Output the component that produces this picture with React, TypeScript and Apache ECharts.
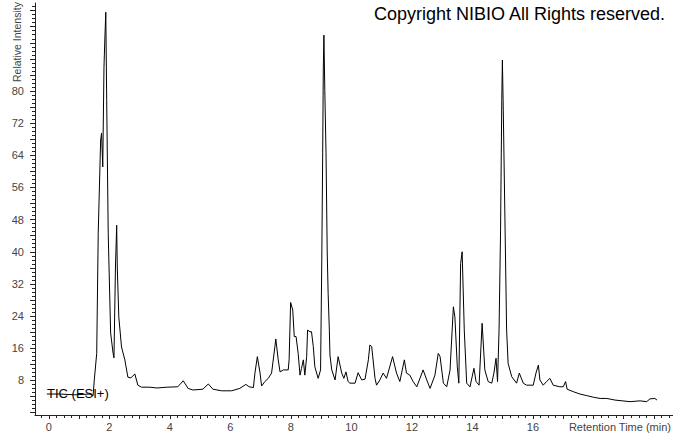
import React, { useEffect, useRef } from "react";
import * as echarts from "echarts";

// Retention time (min) and relative intensity
const times: number[] = [
  -0.07, 0.36, 0.86, 1.36, 1.46, 1.5, 1.58, 1.63, 1.71, 1.74, 1.78, 1.82, 1.85, 1.88, 1.91, 1.96,
  2.04, 2.12, 2.15, 2.2, 2.24, 2.26, 2.31, 2.4, 2.51, 2.61, 2.71, 2.84, 2.94, 3.06, 3.34, 3.57,
  3.9, 4.26, 4.44, 4.6, 4.76, 5.09, 5.27, 5.42, 5.71, 6.04, 6.31, 6.51, 6.62, 6.76, 6.81, 6.89,
  6.98, 7.03, 7.14, 7.25, 7.36, 7.47, 7.5, 7.58, 7.64, 7.75, 7.91, 7.94, 7.99, 8.06, 8.11, 8.17,
  8.24, 8.3, 8.35, 8.41, 8.46, 8.52, 8.55, 8.63, 8.68, 8.74, 8.79, 8.9, 8.98, 9.02, 9.05, 9.07,
  9.09, 9.12, 9.16, 9.2, 9.23, 9.27, 9.29, 9.35, 9.46, 9.56, 9.68, 9.75, 9.82, 9.89, 9.95, 10.12,
  10.22, 10.34, 10.45, 10.56, 10.61, 10.67, 10.78, 10.83, 10.94, 11.05, 11.16, 11.36, 11.49, 11.6,
  11.75, 11.82, 11.93, 12.04, 12.16, 12.37, 12.49, 12.6, 12.76, 12.87, 12.93, 13.04, 13.15, 13.26,
  13.37, 13.42, 13.5, 13.55, 13.61, 13.66, 13.73, 13.81, 13.92, 14.05, 14.12, 14.22, 14.32, 14.41,
  14.52, 14.64, 14.71, 14.78, 14.83, 14.88, 14.93, 14.97, 14.99, 15.02, 15.08, 15.13, 15.18, 15.3,
  15.46, 15.55, 15.68, 15.79, 16.01, 16.1, 16.18, 16.23, 16.34, 16.45, 16.56, 16.67, 16.89, 17.0,
  17.08, 17.13, 17.33, 17.55, 17.78, 18.0, 18.22, 18.44, 18.71, 19.21, 19.54, 19.76, 19.87, 20.03,
  20.1,
];
const intensity: number[] = [
  4.6, 4.6, 4.4, 4.6, 4.2, 8.1, 14.7, 44.7, 67.8, 69.5, 61.1, 85.9, 93.2, 99.6, 77.7, 44.7,
  19.8, 14.8, 13.6, 36.2, 46.6, 36.2, 23.8, 16.3, 13.1, 8.8, 8.6, 9.6, 6.8, 6.3, 6.3, 6.1,
  6.3, 6.4, 7.9, 6.0, 5.6, 5.8, 7.1, 5.8, 5.4, 5.4, 6.0, 7.0, 6.4, 6.2, 9.8, 13.9,
  9.8, 6.6, 7.7, 8.5, 9.8, 16.4, 18.3, 13.1, 10.1, 10.6, 10.6, 13.1, 27.4, 25.5, 18.9, 18.9,
  14.7, 9.3, 11.0, 13.1, 9.3, 13.9, 20.5, 20.1, 20.1, 16.4, 11.4, 8.5, 10.6, 37.9, 64.6, 85.2,
  93.9, 80.2, 64.6, 39.7, 29.7, 20.5, 14.3, 10.6, 8.1, 13.9, 9.8, 8.5, 10.1, 7.7, 7.3, 7.3,
  9.9, 8.1, 8.3, 13.1, 16.8, 16.4, 8.5, 6.8, 8.1, 9.8, 8.5, 13.9, 9.8, 7.7,
  13.1, 9.8, 9.3, 7.7, 6.4, 10.6, 8.1, 6.0, 9.3, 14.7, 13.9, 7.3, 6.4, 10.6,
  26.3, 23.8, 11.4, 7.3, 37.1, 40.0, 20.5, 7.3, 6.4, 11.0, 7.7, 6.8, 22.2, 10.6,
  7.7, 7.3, 9.8, 13.5, 7.7, 20.5, 45.4, 77.7, 87.7, 75.2, 45.4, 20.5, 12.2, 8.9,
  7.3, 9.8, 7.3, 6.8, 6.8, 9.8, 11.8, 8.1, 6.8, 7.7, 8.5, 6.8, 6.4, 6.4,
  7.7, 5.8, 5.2, 4.6, 4.2, 3.8, 3.5, 3.5, 3.1, 2.7, 2.9, 2.7, 3.4, 3.5,
  3.1,
];

// Tick positions and labels
const yLabelValues: number[] = [8, 16, 24, 32, 40, 48, 56, 64, 72, 80];
const xLabelValues: number[] = [0, 2, 4, 6, 8, 10, 12, 14, 16];

const yMajorTicks: number[] = [];
for (let v = 0; v <= 100; v += 4) yMajorTicks.push(v);
const yMinorTicks: number[] = [];
for (let v = 0; v <= 101; v += 1) yMinorTicks.push(v);
const xMajorTicks: number[] = [];
for (let v = 0; v <= 20; v += 1) xMajorTicks.push(v);
const xMinorTicks: number[] = [];
for (let v = -0.25; v <= 20.5; v += 0.25) xMinorTicks.push(Math.round(v * 100) / 100);

const X_MIN = -0.46;
const X_MAX = 20.63;
const Y_MIN = -0.62;
const Y_MAX = 101.9;

export default function App() {
  const ref = useRef<HTMLDivElement>(null);
  useEffect(() => {
    if (!ref.current) return;
    const chart = echarts.init(ref.current, undefined, { renderer: "svg" });
    const axisColor = "#222";
    const labelColor = "#444";
    chart.setOption({
      animation: false,
      backgroundColor: "#ffffff",
      grid: { left: 35, right: 0, top: 3, bottom: 18, containLabel: false, outerBoundsMode: "none" },
      xAxis: [
        {
          type: "value",
          min: X_MIN,
          max: X_MAX,
          position: "bottom",
          axisLine: { show: true, onZero: false, lineStyle: { color: axisColor, width: 1 } },
          axisTick: { show: true, customValues: xMajorTicks, length: 4, lineStyle: { color: axisColor } },
          axisLabel: {
            customValues: xLabelValues,
            color: labelColor,
            fontSize: 11,
            fontFamily: "Liberation Sans, Arial, sans-serif",
            margin: 6,
          },
          splitLine: { show: false },
        },
        {
          type: "value",
          min: X_MIN,
          max: X_MAX,
          position: "bottom",
          axisLine: { show: false, onZero: false },
          axisTick: { show: true, customValues: xMinorTicks, length: 3, lineStyle: { color: axisColor } },
          axisLabel: { show: false },
          splitLine: { show: false },
        },
      ],
      yAxis: [
        {
          type: "value",
          min: Y_MIN,
          max: Y_MAX,
          position: "left",
          axisLine: { show: true, onZero: false, lineStyle: { color: axisColor, width: 1 } },
          axisTick: { show: true, customValues: yMajorTicks, length: 5, lineStyle: { color: axisColor } },
          axisLabel: {
            customValues: yLabelValues,
            color: labelColor,
            fontSize: 11,
            fontFamily: "Liberation Sans, Arial, sans-serif",
            margin: 11,
          },
          splitLine: { show: false },
        },
        {
          type: "value",
          min: Y_MIN,
          max: Y_MAX,
          position: "left",
          axisLine: { show: false, onZero: false },
          axisTick: { show: true, customValues: yMinorTicks, length: 3, lineStyle: { color: axisColor } },
          axisLabel: { show: false },
          splitLine: { show: false },
        },
      ],
      graphic: [
        {
          type: "text",
          right: 7,
          top: 5,
          style: {
            text: "Copyright NIBIO All Rights reserved.",
            fill: "#000",
            fontSize: 18,
            fontFamily: "Liberation Sans, Arial, sans-serif",
          },
        },
        {
          type: "text",
          x: 47,
          y: 393,
          style: {
            text: "TIC (ESI+)",
            fill: "#000",
            fontSize: 13,
            fontFamily: "Liberation Sans, Arial, sans-serif",
            verticalAlign: "middle",
            align: "left",
          },
          z: 10,
        },
        {
          type: "text",
          x: 671,
          y: 427,
          style: {
            text: "Retention Time (min)",
            fill: labelColor,
            fontSize: 11,
            fontFamily: "Liberation Sans, Arial, sans-serif",
            verticalAlign: "middle",
            align: "right",
          },
        },
        {
          type: "text",
          x: 17,
          y: 82,
          rotation: Math.PI / 2,
          style: {
            text: "Relative Intensity",
            fill: labelColor,
            fontSize: 10.5,
            fontFamily: "Liberation Sans, Arial, sans-serif",
            verticalAlign: "middle",
            align: "left",
          },
        },
      ],
      series: [
        {
          type: "line",
          xAxisIndex: 0,
          yAxisIndex: 0,
          data: times.map((t, i) => [t, intensity[i]]),
          showSymbol: false,
          symbol: "none",
          lineStyle: { color: "#000", width: 1 },
          z: 5,
        },
      ],
    });
    return () => chart.dispose();
  }, []);
  return (
    <div
      ref={ref}
      style={{ position: "fixed", left: 0, top: 0, width: 673, height: 433, background: "#fff" }}
    />
  );
}
